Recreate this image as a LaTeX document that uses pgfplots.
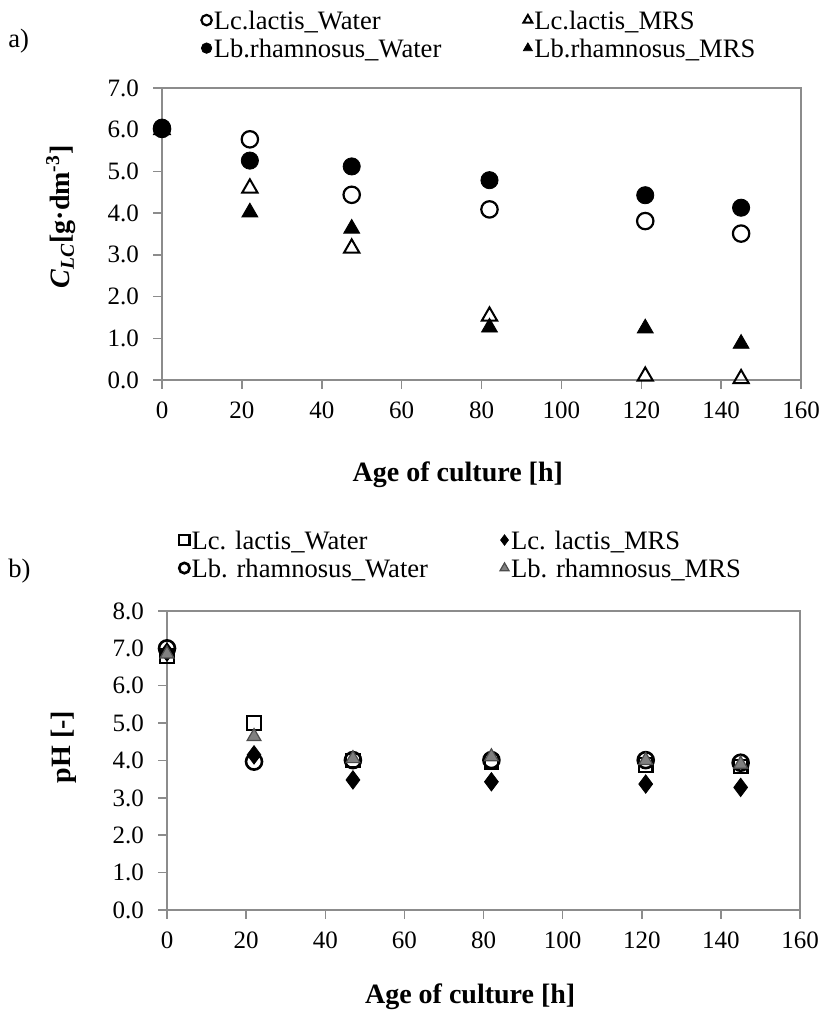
\documentclass[border=0pt]{standalone}
\usepackage{fontspec}
\setmainfont{Liberation Serif}
\usepackage{pgfplots}
\pgfplotsset{compat=1.18}

\newcommand{\tfs}{\fontsize{12.5}{14}\selectfont}
\newcommand{\lfs}{\fontsize{13.3}{15}\selectfont}
\newcommand{\bfs}{\fontsize{14}{16}\selectfont\bfseries}

\pgfplotsset{
  culture/.style={
    scale only axis,
    xmin=0, xmax=160, xtick={0,20,...,160},
    axis line style={black!45, line width=0.75pt},
    tick style={black!45, line width=0.75pt},
    tick align=outside, major tick length=4.5pt,
    xtick pos=bottom, ytick pos=left,
    tick label style={font=\tfs},
    xticklabel style={yshift=-3pt},
    yticklabel style={xshift=-3.5pt},
    /pgf/number format/assume math mode=true,
    y tick label style={/pgf/number format/.cd, fixed, fixed zerofill, precision=1},
    xlabel={Age of culture [h]},
    legend columns=2, legend cell align=left,
    legend style={draw=none, fill=none, font=\lfs, anchor=north west,
      inner sep=0pt, row sep=2pt,
      /tikz/column 1/.style={column sep=0pt},
      /tikz/column 3/.style={column sep=0pt},
      /tikz/column 4/.style={nodes={text height=9pt, text depth=3pt}},
      nodes={inner xsep=1pt, inner ysep=0pt}},
    legend image code/.code={\draw[#1, mark size=2.6pt] plot coordinates {(0pt,1.6pt)};},
  }
}

\begin{document}
\begin{tikzpicture}
\useasboundingbox (0,0) rectangle (412.5pt,506pt);

% a) lactic acid concentration
\begin{axis}[culture,
  at={(81pt,316pt)}, anchor=south west, width=319.5pt, height=146pt,
  ymin=0, ymax=7, ytick={0,1,...,7},
  ylabel={\textit{C}\textsubscript{\textit{LC}}[g·dm\textsuperscript{-3}]},
  every axis x label/.style={at={(axis description cs:0.463,-0.325)}, anchor=center, font=\bfs},
  every axis y label/.style={at={(axis description cs:-0.158,0.558)}, rotate=90, anchor=center, font=\bfs},
  legend style={at={(axis description cs:0.061,1.264)},
    /tikz/column 2/.style={column sep=40pt, nodes={text height=9pt, text depth=3pt}}},
]
\addplot[only marks, mark=o, mark size=4.1pt, line width=1.1pt] coordinates {
 (0,6.02) (22,5.77) (47.5,4.44) (82,4.09) (121,3.81) (145,3.51)};
\addplot[only marks, mark=triangle, mark size=4.4pt, line width=1pt] coordinates {
 (0,6.0) (22,4.60) (47.5,3.16) (82,1.53) (121,0.09) (145,0.03)};
\addplot[only marks, mark=*, mark size=4.3pt, fill=black] coordinates {
 (0,6.05) (22,5.26) (47.5,5.12) (82,4.79) (121,4.43) (145,4.13)};
\addplot[only marks, mark=triangle*, mark size=4.6pt, fill=black] coordinates {
 (0,6.0) (22,4.02) (47.5,3.63) (82,1.26) (121,1.24) (145,0.87)};
\legend{Lc.lactis\_Water, Lc.lactis\_MRS, Lb.rhamnosus\_Water, Lb.rhamnosus\_MRS}
\end{axis}

% b) pH
\begin{axis}[culture,
  at={(83.5pt,51pt)}, anchor=south west, width=316.5pt, height=149.5pt,
  ymin=0, ymax=8, ytick={0,1,...,8},
  ylabel={pH [-]},
  every axis x label/.style={at={(axis description cs:0.479,-0.291)}, anchor=center, font=\bfs},
  every axis y label/.style={at={(axis description cs:-0.163,0.545)}, rotate=90, anchor=center, font=\bfs},
  legend style={at={(axis description cs:0.0186,1.268)},
    /tikz/column 2/.style={column sep=35pt, nodes={text height=9pt, text depth=3pt}}},
]
\addplot[only marks, mark=square, mark size=3.4pt, line width=1.1pt] coordinates {
 (0,6.8) (22,5.0) (47,4.0) (82,3.97) (121,3.88) (145,3.84)};
\addplot[only marks, mark=diamond*, mark size=4.6pt, fill=black] coordinates {
 (0,6.9) (22,4.15) (47,3.48) (82,3.43) (121,3.37) (145,3.28)};
\addplot[only marks, mark=o, mark size=4pt, line width=1.3pt] coordinates {
 (0,7.0) (22,3.97) (47,4.01) (82,4.01) (121,4.01) (145,3.94)};
\addplot[only marks, mark=triangle*, mark size=4pt, draw=black!70, fill=black!50, line width=0.6pt] coordinates {
 (0,6.85) (22,4.64) (47,4.05) (82,4.10) (121,4.0) (145,3.9)};
\legend{Lc. lactis\_Water, Lc. lactis\_MRS, Lb. rhamnosus\_Water, Lb. rhamnosus\_MRS}
\end{axis}

\node[font=\lfs, anchor=west, inner sep=0pt] at (4pt,485.5pt) {a)};
\node[font=\lfs, anchor=west, inner sep=0pt] at (4pt,220.5pt) {b)};
\end{tikzpicture}
\end{document}
